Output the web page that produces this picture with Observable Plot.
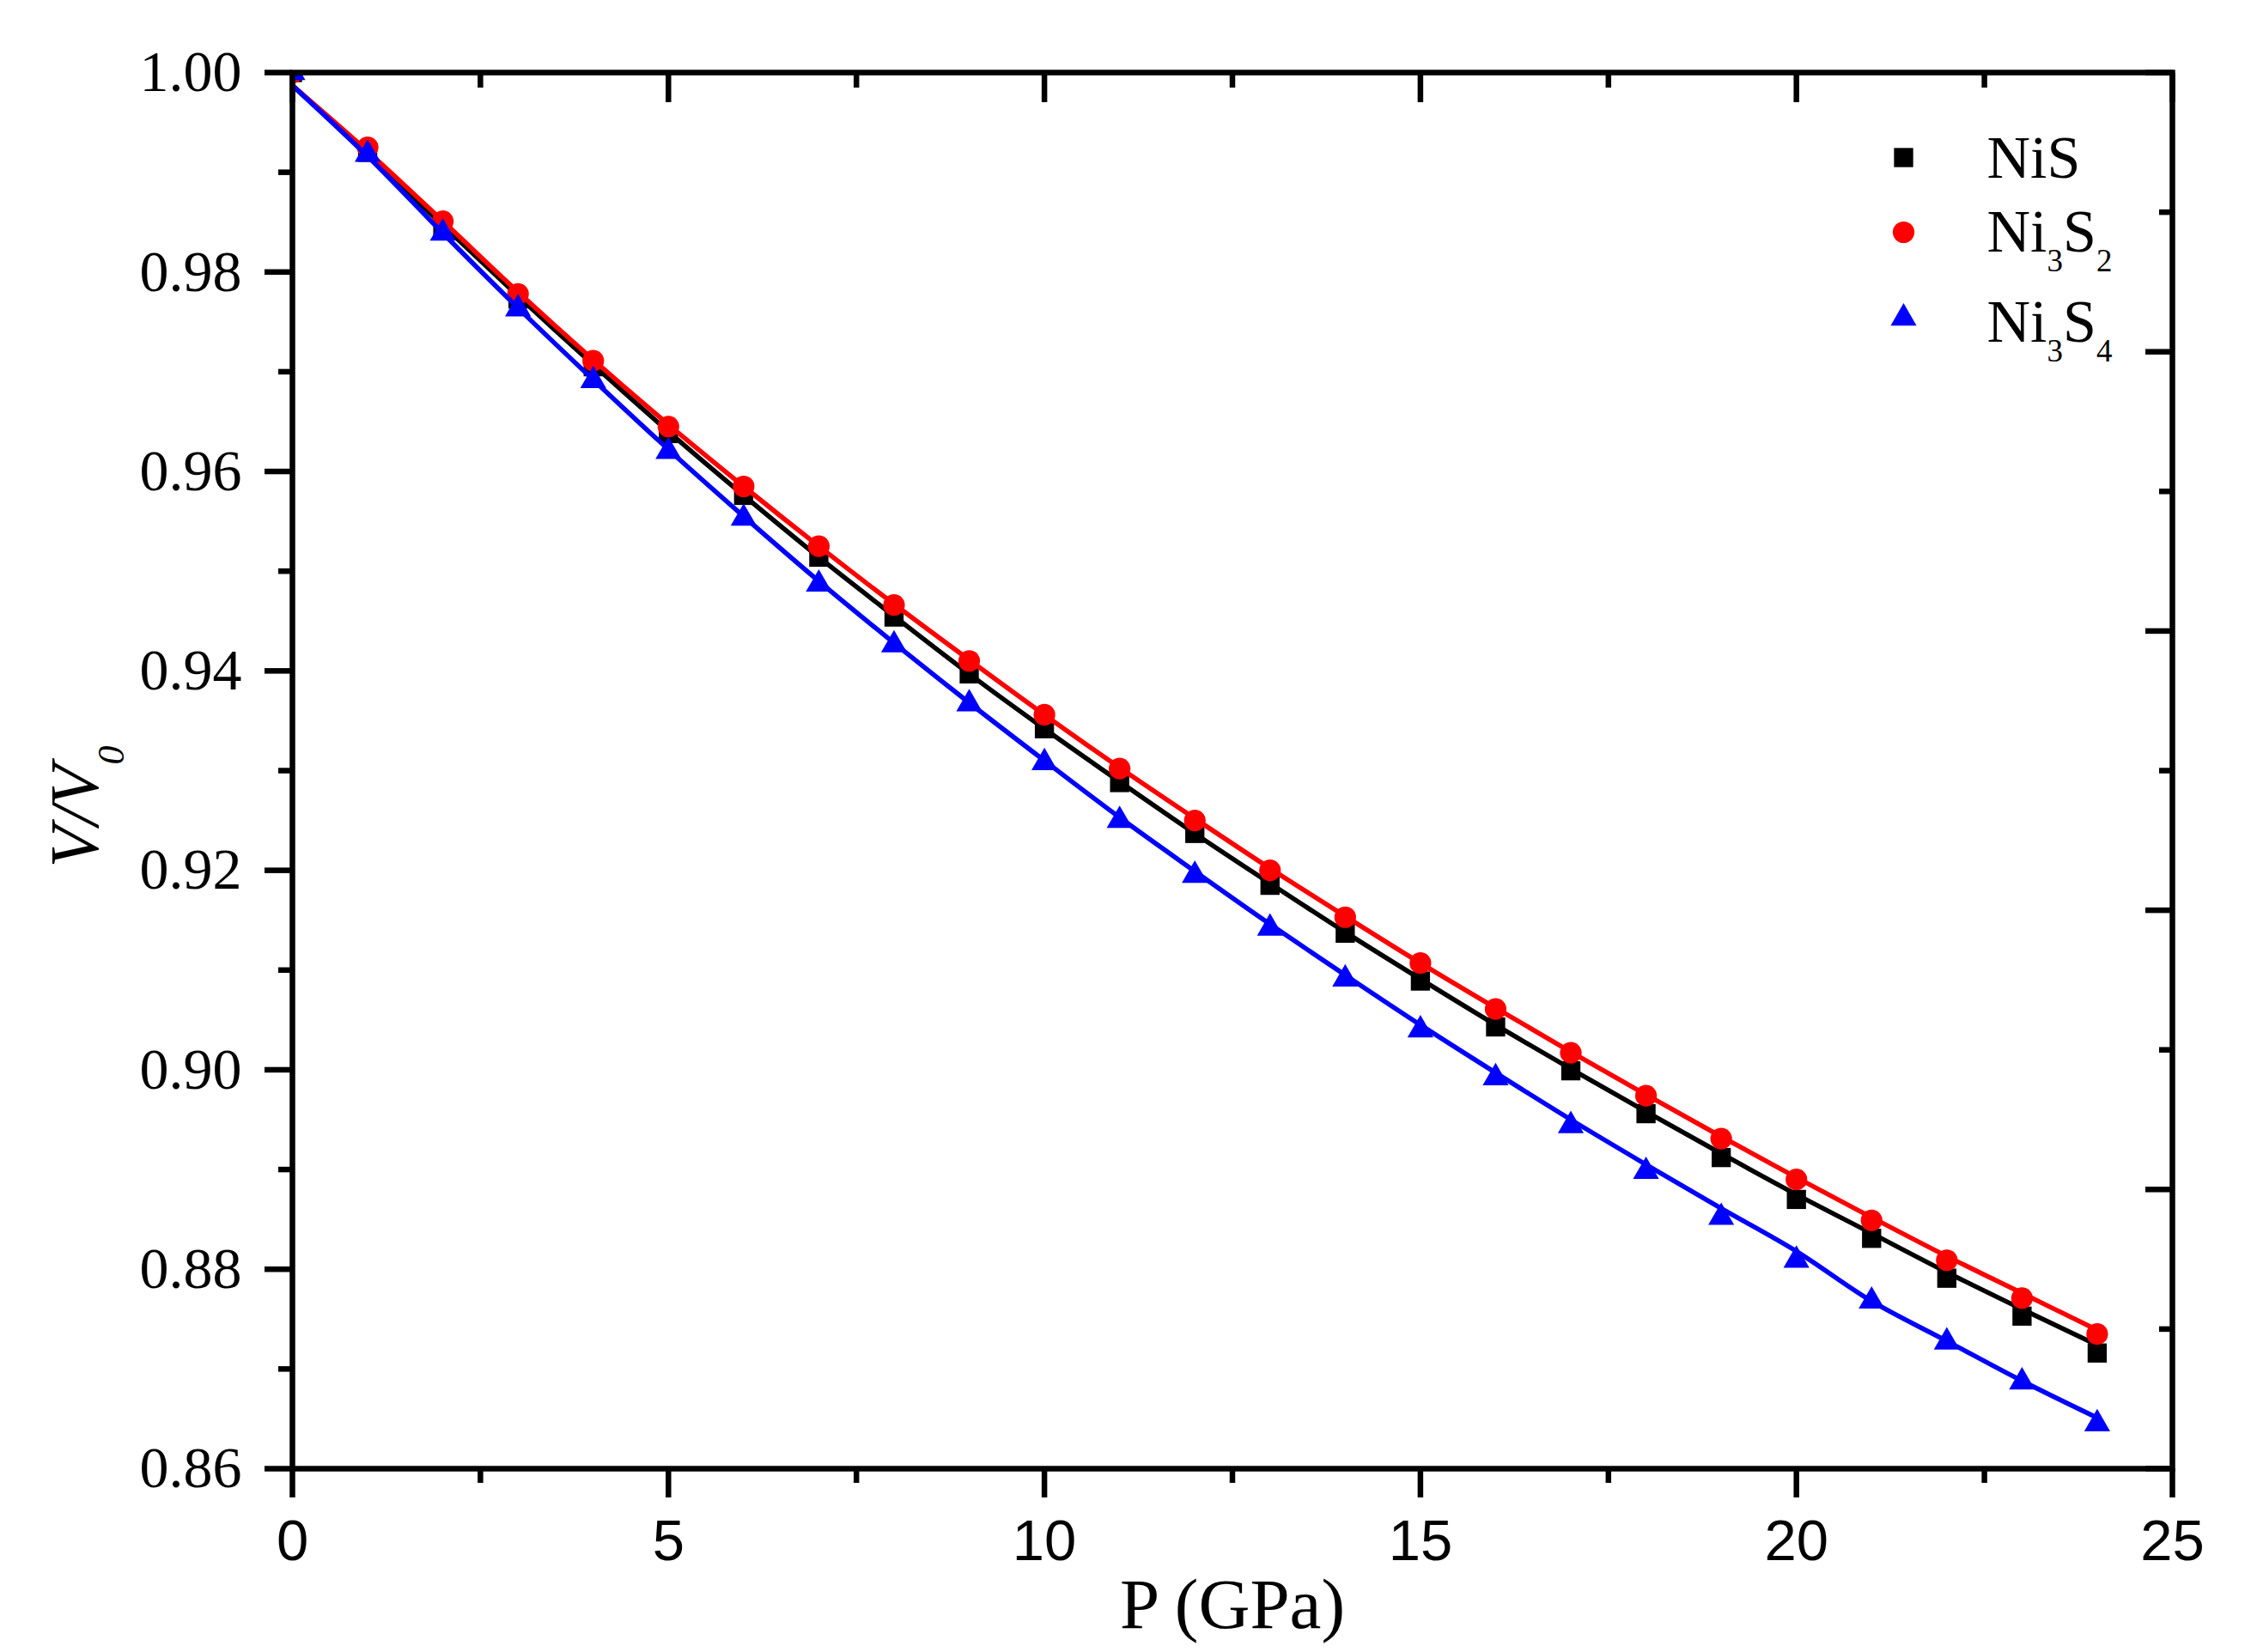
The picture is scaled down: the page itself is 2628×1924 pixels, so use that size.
<!DOCTYPE html>
<html>
<head>
<meta charset="utf-8">
<script src="https://cdn.jsdelivr.net/npm/d3@7"></script>
<script src="https://cdn.jsdelivr.net/npm/@observablehq/plot@0.6"></script>
<style>
  html, body { margin: 0; padding: 0; background: #ffffff; overflow: hidden; }
</style>
</head>
<body>
<div id="chart"></div>
<script>
// ---------- data ----------
const pressure = [0,1,2,3,4,5,6,7,8,9,10,11,12,13,14,15,16,17,18,19,20,21,22,23,24];

const seriesKeys   = ["NiS", "Ni3S2", "Ni3S4"];
const legendLabels = ["NiS", "Ni_3S_2", "Ni_3S_4"];

// measured points (V/V0)
const pointsNiS   = [1.0000,0.9920,0.9845,0.9773,0.9705,0.9638,0.9576,0.9514,0.9454,0.9397,0.9342,0.9288,0.9237,0.9185,0.9137,0.9089,0.9043,0.8999,0.8956,0.8912,0.8870,0.8831,0.8791,0.8753,0.8716];
const pointsNi3S2 = [1.0000,0.9925,0.9851,0.9778,0.9711,0.9645,0.9585,0.9525,0.9466,0.9410,0.9356,0.9302,0.9250,0.9200,0.9153,0.9107,0.9061,0.9017,0.8974,0.8931,0.8890,0.8849,0.8809,0.8771,0.8735];
const pointsNi3S4 = [1.0000,0.9918,0.9839,0.9763,0.9691,0.9620,0.9553,0.9487,0.9426,0.9367,0.9308,0.9250,0.9195,0.9142,0.9091,0.9040,0.8992,0.8944,0.8898,0.8852,0.8809,0.8768,0.8727,0.8687,0.8645];

// fitted curves (EOS fits)
const fitNiS   = [0.9987,0.9918,0.9847,0.9776,0.9707,0.9640,0.9576,0.9514,0.9455,0.9397,0.9342,0.9289,0.9237,0.9187,0.9138,0.9091,0.9045,0.9001,0.8958,0.8916,0.8875,0.8836,0.8797,0.8760,0.8724];
const fitNi3S2 = [0.9987,0.9921,0.9851,0.9780,0.9712,0.9647,0.9585,0.9525,0.9467,0.9411,0.9356,0.9303,0.9252,0.9202,0.9154,0.9107,0.9062,0.9018,0.8975,0.8933,0.8892,0.8852,0.8813,0.8776,0.8739];
const fitNi3S4 = [0.9987,0.9916,0.9839,0.9764,0.9692,0.9622,0.9555,0.9490,0.9428,0.9368,0.9310,0.9253,0.9199,0.9146,0.9095,0.9045,0.8997,0.8950,0.8905,0.8861,0.8818,0.8768,0.8728,0.8688,0.8651];

// tick values
const xMajor = [0,5,10,15,20,25];
const xMinor = [2.5,7.5,12.5,17.5,22.5];
const yMajor = [0.86,0.88,0.90,0.92,0.94,0.96,0.98,1.00];
const yMinor = [0.87,0.89,0.91,0.93,0.95,0.97,0.99];
const rightMajor = [1.000,0.972,0.944,0.916,0.888,0.860];
const rightMinor = [0.986,0.958,0.930,0.902,0.874];

const xTitle = "P (GPa)";
const yTitle = "V/V_0";

// ---------- styles ----------
const colors  = ["#000000", "#ff0000", "#0000ff"];
const symbols = ["square", "circle", "triangle"];
const radii   = [12.6, 12.6, 11.2];
const pointSets = [pointsNiS, pointsNi3S2, pointsNi3S4];
const fitSets   = [fitNiS, fitNi3S2, fitNi3S4];

const pointRows = seriesKeys.map((k, i) => pressure.map((p, j) => ({P: p, v: pointSets[i][j], s: k})));
const fitRows   = seriesKeys.map((k, i) => pressure.map((p, j) => ({P: p, v: fitSets[i][j], s: k})));

const serif = "Liberation Serif, Times New Roman, serif";
const sans  = "Liberation Sans, Arial, sans-serif";
const TW = 6.5;

const marks = [];

// axes (ticks)
marks.push(Plot.axisX({anchor: "bottom", ticks: xMajor, tickSize: 34, tickPadding: 25, strokeWidth: TW,
  fontSize: 67, fontFamily: sans, tickFormat: d => String(d), label: null}));
marks.push(Plot.axisX({anchor: "bottom", ticks: xMinor, tickSize: 17, strokeWidth: TW, fill: "none", label: null}));
marks.push(Plot.axisX({anchor: "top", ticks: xMajor, tickSize: 34, dy: 34, strokeWidth: TW, fill: "none", label: null}));
marks.push(Plot.axisX({anchor: "top", ticks: xMinor, tickSize: 17, dy: 17, strokeWidth: TW, fill: "none", label: null}));

marks.push(Plot.axisY({anchor: "left", ticks: yMajor, tickSize: 32, tickPadding: 27, strokeWidth: TW,
  fontSize: 68, fontFamily: serif, tickFormat: d3.format(".2f"), label: null}));
marks.push(Plot.axisY({anchor: "left", ticks: yMinor, tickSize: 16, strokeWidth: TW, fill: "none", label: null}));
marks.push(Plot.axisY({anchor: "right", ticks: rightMajor, tickSize: 32, dx: -32, strokeWidth: TW, fill: "none", label: null}));
marks.push(Plot.axisY({anchor: "right", ticks: rightMinor, tickSize: 16, dx: -16, strokeWidth: TW, fill: "none", label: null}));

// series
seriesKeys.forEach((k, i) => {
  marks.push(Plot.line(fitRows[i], {x: "P", y: "v", stroke: colors[i], strokeWidth: 5.5, curve: "catmull-rom", clip: true}));
  marks.push(Plot.dot(pointRows[i], {x: "P", y: "v", symbol: symbols[i], fill: colors[i], r: radii[i], clip: true}));
});

// frame
marks.push(Plot.frame({stroke: "black", strokeWidth: TW}));

// legend
const legendMarkerDy = [99, 186, 286];
const legendTextDy   = [122, 208, 313];
seriesKeys.forEach((k, i) => {
  marks.push(Plot.dot([k], {frameAnchor: "top-right", dx: -313, dy: legendMarkerDy[i],
    symbol: symbols[i], fill: colors[i], r: radii[i]}));
  marks.push(Plot.text([legendLabels[i]], {frameAnchor: "top-right", dx: -216, dy: legendTextDy[i],
    text: d => d, textAnchor: "start", lineAnchor: "bottom", fontSize: 70, fontFamily: serif,
    fill: "black"}));
});

// axis titles
marks.push(Plot.text([xTitle], {frameAnchor: "bottom", dy: 185, text: d => d, textAnchor: "middle",
  lineAnchor: "bottom", fontSize: 83, fontFamily: serif, fill: "black"}));
marks.push(Plot.text([yTitle], {frameAnchor: "left", dx: -227, dy: 42, rotate: -90, text: d => d,
  textAnchor: "middle", lineAnchor: "bottom", fontSize: 80, fontStyle: "italic", fontFamily: serif,
  fill: "black"}));

const svg = Plot.plot({
  width: 2628,
  height: 1924,
  marginLeft: 340,
  marginRight: 99,
  marginTop: 84,
  marginBottom: 214,
  x: {domain: [0, 25]},
  y: {domain: [0.86, 1.00]},
  style: {background: "#ffffff", fontFamily: serif, color: "black", overflow: "visible"},
  marks
});

// subscripts: "_d" marks a subscript digit
d3.select(svg).selectAll("text").filter(function () {
  return /_\d/.test(this.textContent);
}).each(function () {
  const raw = this.textContent;
  const isTitle = raw === yTitle;
  const subSize = isTitle ? 44 : 37;
  const shift = isTitle ? 30 : 23;
  this.textContent = "";
  const parts = raw.split(/(_\d)/).filter(s => s.length);
  let down = false;
  for (const p of parts) {
    const t = d3.select(this).append("tspan");
    if (p.startsWith("_")) {
      t.text(p.slice(1)).attr("font-size", subSize);
      if (!down) t.attr("dy", shift);
      down = true;
    } else {
      t.text(p);
      if (down) { t.attr("dy", -shift); down = false; }
    }
  }
});

document.getElementById("chart").appendChild(svg);
</script>
</body>
</html>
